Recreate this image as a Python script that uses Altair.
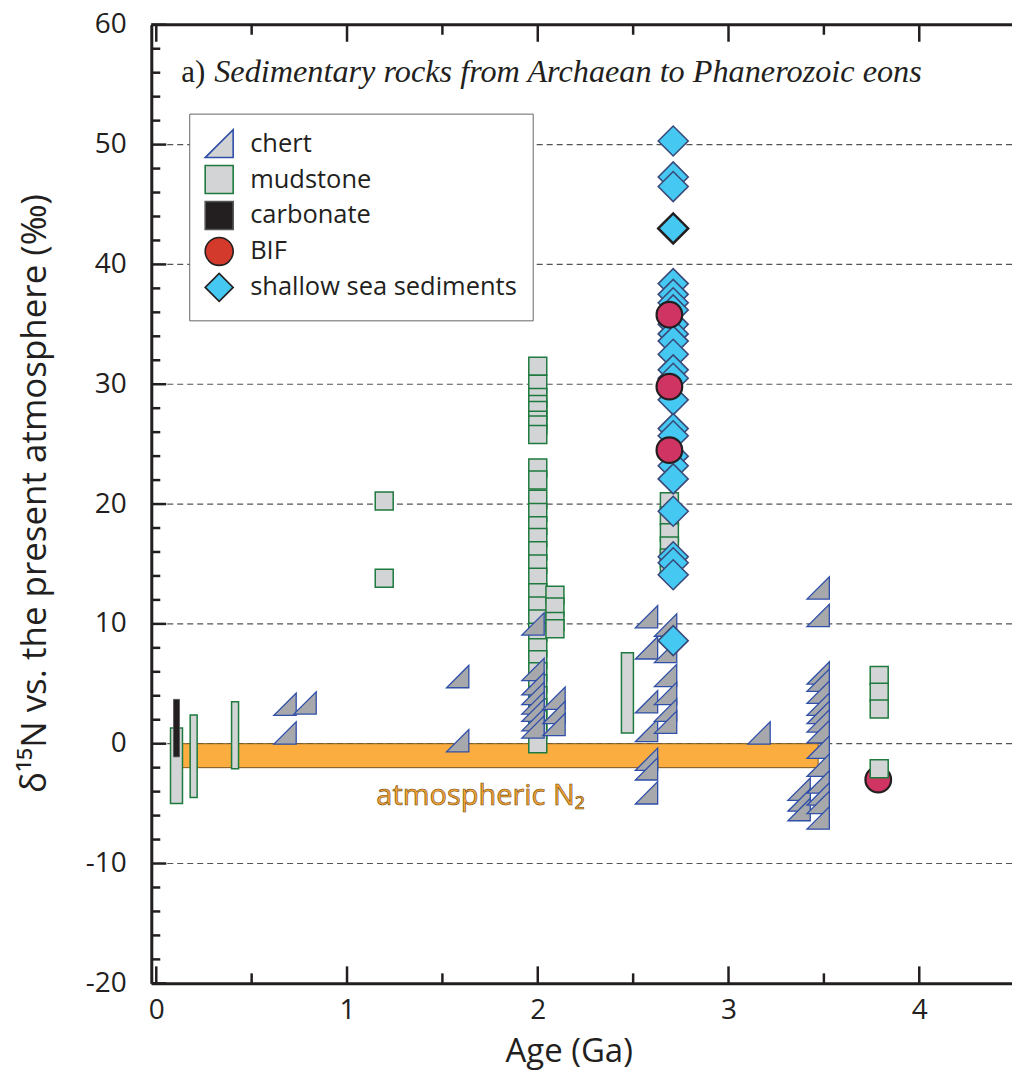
import altair as alt
import pandas as pd

# ---------------- data ----------------
chert_x = [0.675, 0.78, 0.675,
           1.58, 1.58,
           1.975, 1.975, 1.975, 1.975, 1.975, 1.975, 1.975, 1.975,
           2.085, 2.085, 2.085,
           2.57, 2.57, 2.57, 2.57, 2.57, 2.57, 2.57,
           2.67, 2.67, 2.67, 2.67, 2.67, 2.67,
           3.16,
           3.37, 3.37, 3.37,
           3.47, 3.47, 3.47, 3.47, 3.47, 3.47, 3.47, 3.47, 3.47, 3.47, 3.47, 3.47, 3.47, 3.47, 3.47]
chert_y = [3.3, 3.4, 0.9,
           5.6, 0.25,
           10.0, 6.2, 5.0, 4.2, 3.4, 2.8, 2.0, 1.4,
           3.8, 2.6, 1.6,
           10.6, 8.0, 3.5, 1.1, -1.3, -2.1, -4.1,
           9.9, 7.7, 5.7, 4.2, 2.8, 1.8,
           0.9,
           -3.8, -4.7, -5.5,
           13.0, 10.7, 5.9, 5.3, 4.3, 3.3, 2.6, 1.9, 1.0, -0.3, -1.8, -3.2, -4.2, -4.9, -6.2]

mud_x = [1.195, 1.195] + [2.0] * 30 + [2.09] * 4 + [2.69] * 6 + [3.79] * 4
mud_y = [20.25, 13.8,
         31.5, 30.0, 28.9, 28.3, 27.8, 27.0, 26.6, 25.8, 23.0, 22.0, 20.4, 19.3, 18.2, 17.2,
         16.1, 15.0, 13.9, 12.6, 11.5, 10.4, 9.3, 8.0, 7.0, 6.0, 5.0, 4.0, 3.0, 2.0, 1.2, 0.0,
         12.4, 11.4, 10.2, 9.6,
         20.2, 19.0, 17.6, 16.5, 15.5, 14.7,
         5.7, 4.3, 2.9, -2.1]

# mudstone ranges (wide / narrow bars)
mudbar_wide_x = [0.106, 2.47]
mudbar_wide_lo = [-5.0, 0.9]
mudbar_wide_hi = [1.3, 7.6]
mudbar_narrow_x = [0.196, 0.413]
mudbar_narrow_lo = [-4.5, -2.1]
mudbar_narrow_hi = [2.4, 3.5]

carb_x = [0.106]
carb_lo = [-1.1]
carb_hi = [3.7]

bif_x = [2.69, 2.69, 2.69, 3.785]
bif_y = [35.8, 29.8, 24.5, -3.0]

shallow_x = [2.71] * 24
shallow_y = [50.3, 47.3, 46.5, 38.4, 37.5, 36.8, 35.0, 34.2, 33.6, 32.5, 31.2, 30.5,
             28.7, 26.3, 25.7, 24.0, 23.2, 22.1, 19.4, 15.6, 15.1, 14.1, 8.6, 36.2]
shallow_dark_x = [2.71]
shallow_dark_y = [43.0]

atm_x = [0.1]
atm_x2 = [3.47]
atm_y = [0.0]
atm_y2 = [-2.0]

legend_types = ["chert", "mudstone", "carbonate", "BIF", "shallow sea sediments"]

y_label_vals = list(range(-20, 61, 10))
y_grid_vals = list(range(-10, 51, 10))
y_minor_vals = [v for v in range(-20, 61, 2) if v % 10 != 0]
x_label_vals = [0, 1, 2, 3, 4]
x_minor_vals = [0.5, 1.5, 2.5, 3.5]

# ---------------- styling ----------------
TRI = "M-1,1L1,1L1,-1Z"
FONT = "Open Sans"
W, H = 862, 960

xs = alt.Scale(domain=[0, 4.46], nice=False, zero=False)
ys = alt.Scale(domain=[-20, 60], nice=False, zero=False)

x_axis = alt.Axis(values=x_label_vals, ticks=False, grid=False, domainColor="#231f20",
                  domainWidth=3, labelFont=FONT, labelFontSize=28, labelColor="#231f20",
                  labelPadding=13, labelFlush=False, labelExpr="datum.value",
                  title="Age (Ga)", titleFont=FONT, titleFontSize=33, titleFontWeight="normal",
                  titleColor="#231f20", titleX=418, titleY=68, titleBaseline="middle",
                  titleAlign="center", zindex=1)
y_axis = alt.Axis(values=y_label_vals, ticks=False, grid=False, domainColor="#231f20",
                  domainWidth=3, labelFont=FONT, labelFontSize=28, labelColor="#231f20",
                  labelPadding=25, labelExpr="datum.value",
                  title="δ¹⁵N vs. the present atmosphere  (‰)", titleFont=FONT,
                  titleFontSize=35, titleFontWeight="normal", titleColor="#231f20",
                  titleX=-117, titleY=469, titleAngle=270, titleAlign="center",
                  titleBaseline="middle", zindex=1)


def X(f):
    return alt.X(f"{f}:Q", scale=xs, axis=x_axis)


def Y(f):
    return alt.Y(f"{f}:Q", scale=ys, axis=y_axis)


# ---------------- layers ----------------
grid = alt.Chart(pd.DataFrame({"v": y_grid_vals})).mark_rule(
    color="#555", strokeDash=[6, 4], strokeWidth=1.2).encode(y=Y("v"))

top_frame = alt.Chart(pd.DataFrame({"v": [60]})).mark_rule(
    color="#231f20", strokeWidth=3).encode(y=Y("v"))

ytick_major = alt.Chart(pd.DataFrame({"v": y_label_vals})).mark_rule(
    color="#231f20", strokeWidth=2.5).encode(y=Y("v"), x=alt.value(0), x2=alt.value(15))
ytick_minor = alt.Chart(pd.DataFrame({"v": y_minor_vals})).mark_rule(
    color="#231f20", strokeWidth=2.5).encode(y=Y("v"), x=alt.value(0), x2=alt.value(9))
xtick_major_b = alt.Chart(pd.DataFrame({"v": x_label_vals})).mark_rule(
    color="#231f20", strokeWidth=2.5).encode(x=X("v"), y=alt.value(H), y2=alt.value(H - 17))
xtick_minor_b = alt.Chart(pd.DataFrame({"v": x_minor_vals})).mark_rule(
    color="#231f20", strokeWidth=2.5).encode(x=X("v"), y=alt.value(H), y2=alt.value(H - 10))
xtick_major_t = alt.Chart(pd.DataFrame({"v": x_label_vals})).mark_rule(
    color="#231f20", strokeWidth=2.5).encode(x=X("v"), y=alt.value(0), y2=alt.value(17))
xtick_minor_t = alt.Chart(pd.DataFrame({"v": x_minor_vals})).mark_rule(
    color="#231f20", strokeWidth=2.5).encode(x=X("v"), y=alt.value(0), y2=alt.value(10))

band = alt.Chart(pd.DataFrame({"x": atm_x, "x2": atm_x2, "y": atm_y, "y2": atm_y2})).mark_rect(
    fill="#FBAE3F", stroke="#7a5520", strokeWidth=1).encode(
    x=X("x"), x2="x2", y=Y("y"), y2="y2")

band_label = alt.Chart(pd.DataFrame({"x": [1.70], "y": [-4.4], "t": ["atmospheric N₂"]})).mark_text(
    font=FONT, fontSize=29, fill="#F7A433", stroke="#6b4a12", strokeWidth=0.6,
    align="center", baseline="middle").encode(x=X("x"), y=Y("y"), text="t:N")

mud_wide = alt.Chart(pd.DataFrame({"x": mudbar_wide_x, "lo": mudbar_wide_lo, "hi": mudbar_wide_hi})).mark_bar(
    size=12, fill="#d3d4d6", stroke="#1e7a3e", strokeWidth=1.5).encode(
    x=X("x"), y=Y("lo"), y2="hi")
mud_narrow = alt.Chart(pd.DataFrame({"x": mudbar_narrow_x, "lo": mudbar_narrow_lo, "hi": mudbar_narrow_hi})).mark_bar(
    size=7, fill="#d3d4d6", stroke="#1e7a3e", strokeWidth=1.5).encode(
    x=X("x"), y=Y("lo"), y2="hi")
carb = alt.Chart(pd.DataFrame({"x": carb_x, "lo": carb_lo, "hi": carb_hi})).mark_bar(
    size=6, fill="#231f20", stroke="#555", strokeWidth=0.8).encode(
    x=X("x"), y=Y("lo"), y2="hi")

bif_low = alt.Chart(pd.DataFrame({"x": bif_x[3:], "y": bif_y[3:]})).mark_point(
    filled=True, shape="circle", size=660, fill="#d03463", stroke="#231f20",
    strokeWidth=2.2, opacity=1).encode(x=X("x"), y=Y("y"))

mud_pts = alt.Chart(pd.DataFrame({"x": mud_x, "y": mud_y})).mark_point(
    filled=True, shape="square", size=324, fill="#d3d4d6", stroke="#1e7a3e",
    strokeWidth=1.5, opacity=1).encode(x=X("x"), y=Y("y"))

chert_pts = alt.Chart(pd.DataFrame({"x": chert_x, "y": chert_y})).mark_point(
    filled=True, shape=TRI, size=500, fill="#a7a8ab", stroke="#2f4fa8",
    strokeWidth=1.3, opacity=1).encode(x=X("x"), y=Y("y"))

shallow_pts = alt.Chart(pd.DataFrame({"x": shallow_x, "y": shallow_y})).mark_point(
    filled=True, shape="diamond", size=900, fill="#45c8f2", stroke="#3a4a78",
    strokeWidth=1.6, opacity=1).encode(x=X("x"), y=Y("y"))
shallow_dark = alt.Chart(pd.DataFrame({"x": shallow_dark_x, "y": shallow_dark_y})).mark_point(
    filled=True, shape="diamond", size=900, fill="#45c8f2", stroke="#231f20",
    strokeWidth=2.5, opacity=1).encode(x=X("x"), y=Y("y"))

bif_pts = alt.Chart(pd.DataFrame({"x": bif_x[:3], "y": bif_y[:3]})).mark_point(
    filled=True, shape="circle", size=660, fill="#d03463", stroke="#231f20",
    strokeWidth=2.2, opacity=1).encode(x=X("x"), y=Y("y"))

# legend (driven by scales with explicit domains; no marks drawn)
leg = alt.Legend(title=None, orient="none", legendX=38, legendY=89, fillColor="white",
                 strokeColor="#666", padding=15, labelFont=FONT, labelFontSize=25.5,
                 labelColor="#231f20", symbolSize=784, symbolStrokeWidth=1.6,
                 rowPadding=0, labelOffset=16, labelLimit=400)
legend_layer = alt.Chart(pd.DataFrame({"x": [0.0], "y": [0.0], "type": ["chert"]})).transform_filter(
    "datum.x > 100").mark_point(filled=True, opacity=1).encode(
    x=X("x"), y=Y("y"),
    shape=alt.Shape("type:N", scale=alt.Scale(domain=legend_types,
                    range=[TRI, "square", "square", "circle", "diamond"]), legend=leg),
    fill=alt.Fill("type:N", scale=alt.Scale(domain=legend_types,
                  range=["#d1d2d4", "#d3d4d6", "#231f20", "#d43a2c", "#45c8f2"]), legend=leg),
    stroke=alt.Stroke("type:N", scale=alt.Scale(domain=legend_types,
                      range=["#2f4fa8", "#1e7a3e", "#555555", "#231f20", "#231f20"]), legend=leg),
)

title_df = pd.DataFrame({"t": ["Sedimentary rocks from Archaean to Phanerozoic eons"]})
title_a = alt.Chart(title_df).mark_text(
    font="Liberation Serif", fontSize=31, color="#231f20", align="left",
    baseline="alphabetic").encode(x=alt.value(30), y=alt.value(57), text=alt.value("a)"))
title_b = alt.Chart(title_df).mark_text(
    font="Liberation Serif", fontSize=32.3, fontStyle="italic", color="#231f20", align="left",
    baseline="alphabetic").encode(x=alt.value(63), y=alt.value(57), text="t:N")

chart = alt.layer(
    grid, band, band_label, mud_wide, mud_narrow, carb,
    bif_low, mud_pts, chert_pts, shallow_pts, shallow_dark, bif_pts,
    ytick_major, ytick_minor, xtick_major_b, xtick_minor_b, xtick_major_t, xtick_minor_t,
    top_frame, title_a, title_b, legend_layer,
).properties(
    width=W, height=H,
    autosize=alt.AutoSizeParams(type="none"),
    padding={"left": 143.5, "top": 16, "right": 0, "bottom": 90},
    background="white",
).configure_view(stroke=None)

chart.save("out.html", embed_options={"renderer": "svg", "actions": False})
